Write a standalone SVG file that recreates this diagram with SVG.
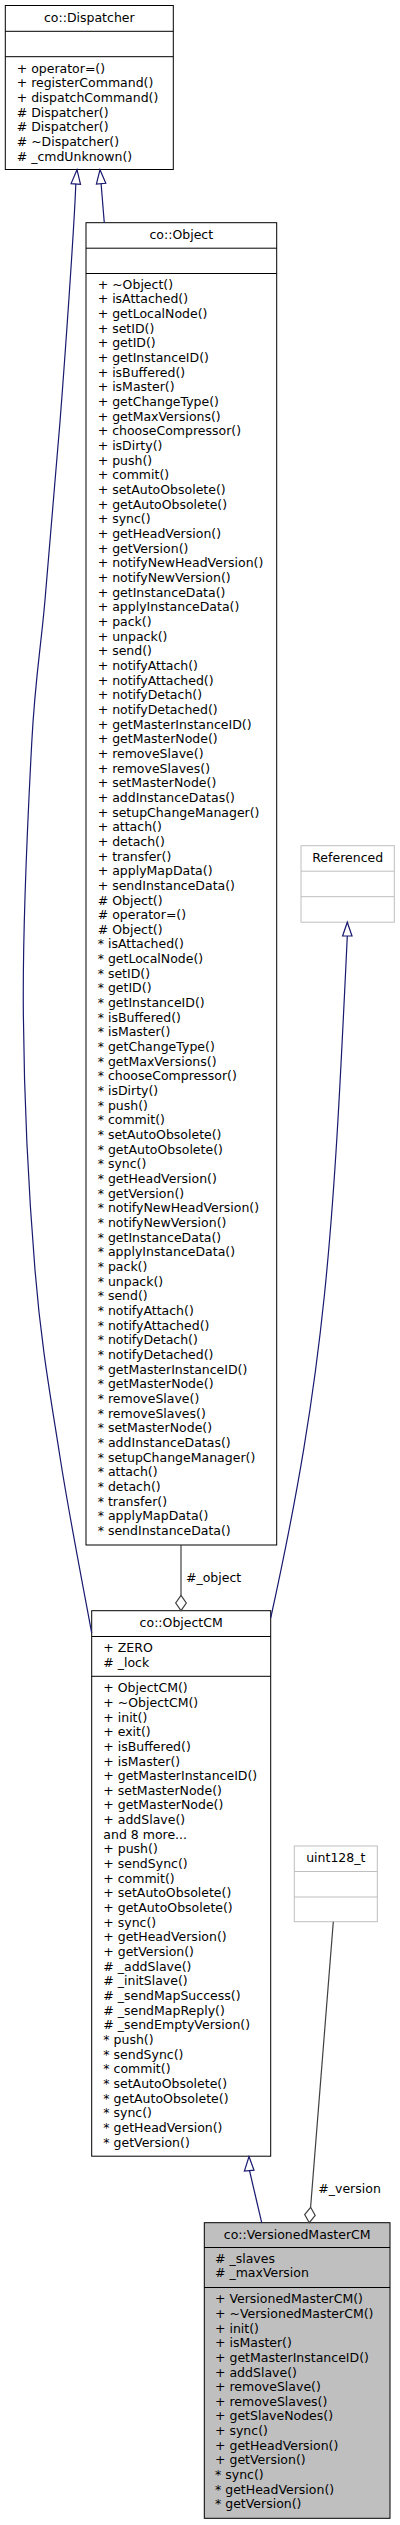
<svg xmlns="http://www.w3.org/2000/svg" width="400" height="2525" viewBox="0 0 400 2525">
<style>
text{font-family:"DejaVu Sans","Liberation Sans",sans-serif;font-size:12.5px;fill:#000}
.t{text-anchor:middle}
.box{fill:#fff;stroke:#000;stroke-width:1}
.sep{stroke:#000;stroke-width:1;fill:none}
.gbox{fill:#fff;stroke:#bfbfbf;stroke-width:1}
.gsep{stroke:#bfbfbf;stroke-width:1;fill:none}
.hl{fill:#bfbfbf;stroke:#000;stroke-width:1}
.inh{fill:none;stroke:#191970;stroke-width:1.2}
.inhh{fill:#fff;stroke:#191970;stroke-width:1.2}
.agg{fill:none;stroke:#404040;stroke-width:1.2}
.aggh{fill:#fff;stroke:#404040;stroke-width:1.2}
</style>
<rect width="400" height="2525" fill="#fff"/>

<g id="node-dispatcher">
<rect class="box" x="5.3" y="5.5" width="168" height="164"/>
<path class="sep" d="M5.3,31.3H173.3M5.3,56.7H173.3"/>
<text class="t" x="89.3" y="21.7">co::Dispatcher</text>
<text x="16.7" y="72.6"><tspan x="16.7" dy="0">+ operator=()</tspan><tspan x="16.7" dy="14.66">+ registerCommand()</tspan><tspan x="16.7" dy="14.66">+ dispatchCommand()</tspan><tspan x="16.7" dy="14.66"># Dispatcher()</tspan><tspan x="16.7" dy="14.66"># Dispatcher()</tspan><tspan x="16.7" dy="14.66"># ~Dispatcher()</tspan><tspan x="16.7" dy="14.66"># _cmdUnknown()</tspan></text>
</g>

<g id="node-object">
<rect class="box" x="86" y="222.7" width="190.7" height="1322.3"/>
<path class="sep" d="M86,248.2H276.7M86,273.5H276.7"/>
<text class="t" x="181.3" y="238.7">co::Object</text>
<text x="97.7" y="288.8"><tspan x="97.7" dy="0">+ ~Object()</tspan><tspan x="97.7" dy="14.66">+ isAttached()</tspan><tspan x="97.7" dy="14.66">+ getLocalNode()</tspan><tspan x="97.7" dy="14.66">+ setID()</tspan><tspan x="97.7" dy="14.66">+ getID()</tspan><tspan x="97.7" dy="14.66">+ getInstanceID()</tspan><tspan x="97.7" dy="14.66">+ isBuffered()</tspan><tspan x="97.7" dy="14.66">+ isMaster()</tspan><tspan x="97.7" dy="14.66">+ getChangeType()</tspan><tspan x="97.7" dy="14.66">+ getMaxVersions()</tspan><tspan x="97.7" dy="14.66">+ chooseCompressor()</tspan><tspan x="97.7" dy="14.66">+ isDirty()</tspan><tspan x="97.7" dy="14.66">+ push()</tspan><tspan x="97.7" dy="14.66">+ commit()</tspan><tspan x="97.7" dy="14.66">+ setAutoObsolete()</tspan><tspan x="97.7" dy="14.66">+ getAutoObsolete()</tspan><tspan x="97.7" dy="14.66">+ sync()</tspan><tspan x="97.7" dy="14.66">+ getHeadVersion()</tspan><tspan x="97.7" dy="14.66">+ getVersion()</tspan><tspan x="97.7" dy="14.66">+ notifyNewHeadVersion()</tspan><tspan x="97.7" dy="14.66">+ notifyNewVersion()</tspan><tspan x="97.7" dy="14.66">+ getInstanceData()</tspan><tspan x="97.7" dy="14.66">+ applyInstanceData()</tspan><tspan x="97.7" dy="14.66">+ pack()</tspan><tspan x="97.7" dy="14.66">+ unpack()</tspan><tspan x="97.7" dy="14.66">+ send()</tspan><tspan x="97.7" dy="14.66">+ notifyAttach()</tspan><tspan x="97.7" dy="14.66">+ notifyAttached()</tspan><tspan x="97.7" dy="14.66">+ notifyDetach()</tspan><tspan x="97.7" dy="14.66">+ notifyDetached()</tspan><tspan x="97.7" dy="14.66">+ getMasterInstanceID()</tspan><tspan x="97.7" dy="14.66">+ getMasterNode()</tspan><tspan x="97.7" dy="14.66">+ removeSlave()</tspan><tspan x="97.7" dy="14.66">+ removeSlaves()</tspan><tspan x="97.7" dy="14.66">+ setMasterNode()</tspan><tspan x="97.7" dy="14.66">+ addInstanceDatas()</tspan><tspan x="97.7" dy="14.66">+ setupChangeManager()</tspan><tspan x="97.7" dy="14.66">+ attach()</tspan><tspan x="97.7" dy="14.66">+ detach()</tspan><tspan x="97.7" dy="14.66">+ transfer()</tspan><tspan x="97.7" dy="14.66">+ applyMapData()</tspan><tspan x="97.7" dy="14.66">+ sendInstanceData()</tspan><tspan x="97.7" dy="14.66"># Object()</tspan><tspan x="97.7" dy="14.66"># operator=()</tspan><tspan x="97.7" dy="14.66"># Object()</tspan><tspan x="97.7" dy="14.66">* isAttached()</tspan><tspan x="97.7" dy="14.66">* getLocalNode()</tspan><tspan x="97.7" dy="14.66">* setID()</tspan><tspan x="97.7" dy="14.66">* getID()</tspan><tspan x="97.7" dy="14.66">* getInstanceID()</tspan><tspan x="97.7" dy="14.66">* isBuffered()</tspan><tspan x="97.7" dy="14.66">* isMaster()</tspan><tspan x="97.7" dy="14.66">* getChangeType()</tspan><tspan x="97.7" dy="14.66">* getMaxVersions()</tspan><tspan x="97.7" dy="14.66">* chooseCompressor()</tspan><tspan x="97.7" dy="14.66">* isDirty()</tspan><tspan x="97.7" dy="14.66">* push()</tspan><tspan x="97.7" dy="14.66">* commit()</tspan><tspan x="97.7" dy="14.66">* setAutoObsolete()</tspan><tspan x="97.7" dy="14.66">* getAutoObsolete()</tspan><tspan x="97.7" dy="14.66">* sync()</tspan><tspan x="97.7" dy="14.66">* getHeadVersion()</tspan><tspan x="97.7" dy="14.66">* getVersion()</tspan><tspan x="97.7" dy="14.66">* notifyNewHeadVersion()</tspan><tspan x="97.7" dy="14.66">* notifyNewVersion()</tspan><tspan x="97.7" dy="14.66">* getInstanceData()</tspan><tspan x="97.7" dy="14.66">* applyInstanceData()</tspan><tspan x="97.7" dy="14.66">* pack()</tspan><tspan x="97.7" dy="14.66">* unpack()</tspan><tspan x="97.7" dy="14.66">* send()</tspan><tspan x="97.7" dy="14.66">* notifyAttach()</tspan><tspan x="97.7" dy="14.66">* notifyAttached()</tspan><tspan x="97.7" dy="14.66">* notifyDetach()</tspan><tspan x="97.7" dy="14.66">* notifyDetached()</tspan><tspan x="97.7" dy="14.66">* getMasterInstanceID()</tspan><tspan x="97.7" dy="14.66">* getMasterNode()</tspan><tspan x="97.7" dy="14.66">* removeSlave()</tspan><tspan x="97.7" dy="14.66">* removeSlaves()</tspan><tspan x="97.7" dy="14.66">* setMasterNode()</tspan><tspan x="97.7" dy="14.66">* addInstanceDatas()</tspan><tspan x="97.7" dy="14.66">* setupChangeManager()</tspan><tspan x="97.7" dy="14.66">* attach()</tspan><tspan x="97.7" dy="14.66">* detach()</tspan><tspan x="97.7" dy="14.66">* transfer()</tspan><tspan x="97.7" dy="14.66">* applyMapData()</tspan><tspan x="97.7" dy="14.66">* sendInstanceData()</tspan></text>
</g>

<g id="node-referenced">
<rect class="gbox" x="301" y="845.7" width="93.3" height="76.5"/>
<path class="gsep" d="M301,871.2H394.3M301,896.7H394.3"/>
<text class="t" x="347.7" y="861.7">Referenced</text>
</g>

<g id="node-objectcm">
<rect class="box" x="91.7" y="1610.7" width="179" height="545.5"/>
<path class="sep" d="M91.7,1636.5H270.7M91.7,1676.3H270.7"/>
<text class="t" x="181.2" y="1626.7">co::ObjectCM</text>
<text x="103.3" y="1652.2"><tspan x="103.3" dy="0">+ ZERO</tspan><tspan x="103.3" dy="14.66"># _lock</tspan></text>
<text x="103.3" y="1692.2"><tspan x="103.3" dy="0">+ ObjectCM()</tspan><tspan x="103.3" dy="14.66">+ ~ObjectCM()</tspan><tspan x="103.3" dy="14.66">+ init()</tspan><tspan x="103.3" dy="14.66">+ exit()</tspan><tspan x="103.3" dy="14.66">+ isBuffered()</tspan><tspan x="103.3" dy="14.66">+ isMaster()</tspan><tspan x="103.3" dy="14.66">+ getMasterInstanceID()</tspan><tspan x="103.3" dy="14.66">+ setMasterNode()</tspan><tspan x="103.3" dy="14.66">+ getMasterNode()</tspan><tspan x="103.3" dy="14.66">+ addSlave()</tspan><tspan x="103.3" dy="14.66">and 8 more...</tspan><tspan x="103.3" dy="14.66">+ push()</tspan><tspan x="103.3" dy="14.66">+ sendSync()</tspan><tspan x="103.3" dy="14.66">+ commit()</tspan><tspan x="103.3" dy="14.66">+ setAutoObsolete()</tspan><tspan x="103.3" dy="14.66">+ getAutoObsolete()</tspan><tspan x="103.3" dy="14.66">+ sync()</tspan><tspan x="103.3" dy="14.66">+ getHeadVersion()</tspan><tspan x="103.3" dy="14.66">+ getVersion()</tspan><tspan x="103.3" dy="14.66"># _addSlave()</tspan><tspan x="103.3" dy="14.66"># _initSlave()</tspan><tspan x="103.3" dy="14.66"># _sendMapSuccess()</tspan><tspan x="103.3" dy="14.66"># _sendMapReply()</tspan><tspan x="103.3" dy="14.66"># _sendEmptyVersion()</tspan><tspan x="103.3" dy="14.66">* push()</tspan><tspan x="103.3" dy="14.66">* sendSync()</tspan><tspan x="103.3" dy="14.66">* commit()</tspan><tspan x="103.3" dy="14.66">* setAutoObsolete()</tspan><tspan x="103.3" dy="14.66">* getAutoObsolete()</tspan><tspan x="103.3" dy="14.66">* sync()</tspan><tspan x="103.3" dy="14.66">* getHeadVersion()</tspan><tspan x="103.3" dy="14.66">* getVersion()</tspan></text>
</g>

<g id="node-uint128">
<rect class="gbox" x="294.3" y="1846" width="83" height="75.7"/>
<path class="gsep" d="M294.3,1871.5H377.3M294.3,1897H377.3"/>
<text class="t" x="335.8" y="1861.7">uint128_t</text>
</g>

<g id="node-versionedmastercm">
<rect class="hl" x="204.3" y="2222.7" width="185.7" height="295.6"/>
<path class="sep" d="M204.3,2247.5H390M204.3,2287.5H390"/>
<text class="t" x="297.2" y="2239">co::VersionedMasterCM</text>
<text x="215" y="2262.8"><tspan x="215" dy="0"># _slaves</tspan><tspan x="215" dy="14.66"># _maxVersion</tspan></text>
<text x="215" y="2303.2"><tspan x="215" dy="0">+ VersionedMasterCM()</tspan><tspan x="215" dy="14.66">+ ~VersionedMasterCM()</tspan><tspan x="215" dy="14.66">+ init()</tspan><tspan x="215" dy="14.66">+ isMaster()</tspan><tspan x="215" dy="14.66">+ getMasterInstanceID()</tspan><tspan x="215" dy="14.66">+ addSlave()</tspan><tspan x="215" dy="14.66">+ removeSlave()</tspan><tspan x="215" dy="14.66">+ removeSlaves()</tspan><tspan x="215" dy="14.66">+ getSlaveNodes()</tspan><tspan x="215" dy="14.66">+ sync()</tspan><tspan x="215" dy="14.66">+ getHeadVersion()</tspan><tspan x="215" dy="14.66">+ getVersion()</tspan><tspan x="215" dy="14.66">* sync()</tspan><tspan x="215" dy="14.66">* getHeadVersion()</tspan><tspan x="215" dy="14.66">* getVersion()</tspan></text>
</g>

<g id="connectors">
<path class="inh" d="M75.8,184 C74.4,223.6 65.4,352.4 60,421.7 C54.6,491 49.7,546.4 45,600 C40.3,653.6 35.3,675.8 31.7,743.5 C28.1,811.2 22.75,918.25 23.3,1006 C23.85,1093.75 28.9,1194.8 35,1270 C41.1,1345.2 50.55,1396.5 60,1457 C69.45,1517.5 86.4,1603.7 91.7,1633"/>
<polygon class="inhh" points="77,169.7 80.5,184.4 71.1,183.6"/>
<path class="inh" d="M101.1,183.7 L104.3,222.7"/>
<polygon class="inhh" points="100,169.7 105.8,183.3 96.4,184.1"/>
<path class="inh" d="M347.3,936 C333.2,1236 325.7,1368 270.7,1618"/>
<polygon class="inhh" points="347.3,922.2 352,936 342.6,936"/>
<path class="inh" d="M249.5,2170.5 L261.7,2222.7"/>
<polygon class="inhh" points="249,2156.5 254,2170.2 244.4,2171"/>
<path class="agg" d="M181,1545 L181,1595.3"/>
<polygon class="aggh" points="181,1595.3 186.3,1603 181,1610.7 175.7,1603"/>
<text x="186" y="1581.7">#_object</text>
<path class="agg" d="M333.3,1921.7 L310.6,2207.3"/>
<polygon class="aggh" points="310.6,2207.3 315.2,2215.4 309.3,2222.7 304.7,2214.6"/>
<text x="318.3" y="2192.7">#_version</text>
</g>
</svg>
